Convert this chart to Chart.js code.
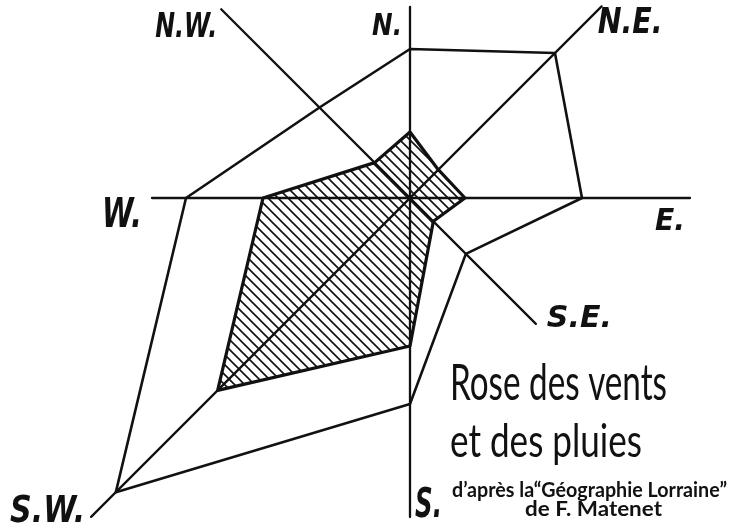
<!DOCTYPE html>
<html>
<head>
<meta charset="utf-8">
<script src="https://cdn.jsdelivr.net/npm/chart.js@4.4.0/dist/chart.umd.min.js"></script>
<style>
html,body{margin:0;padding:0;background:#fff;}
#wrap{width:729px;height:525px;position:relative;}
</style>
</head>
<body>
<div id="wrap"><canvas id="c"></canvas></div>
<script>
// ---- data ----
const directions = ['N.', 'N.E.', 'E.', 'S.E.', 'S.', 'S.W.', 'W.', 'N.W.'];
const bearings   = [0, 45, 90, 135, 180, 225, 270, 315];
const vents      = [149, 205, 172, 79, 206, 416, 224, 128];   // outer polygon (winds)
const pluies     = [66, 40, 55, 33, 148, 272, 147, 50];       // hatched polygon (rain)
const axisReach  = [191, 271, 280, 178, 319, 451, 258, 267];  // length of each drawn spoke
const titleLines  = ['Rose des vents', 'et des pluies'];
const sourceLines = ['d\u2019après la\u201cGéographie Lorraine\u201d', 'de F. Matenet'];

function toXY(bearing, r) {
  const a = bearing * Math.PI / 180;
  return { x: r * Math.sin(a), y: r * Math.cos(a) };
}
function polygon(values) {
  const pts = values.map((v, i) => toXY(bearings[i], v));
  pts.push(pts[0]);
  return pts;
}
function hatchPattern() {
  const s = 10;
  const c = document.createElement('canvas');
  c.width = s; c.height = s;
  const g = c.getContext('2d');
  g.strokeStyle = '#111';
  g.lineWidth = 1.6;
  g.beginPath();
  for (const k of [-1, 0, 1]) {
    g.moveTo(-1, -1 + k * s);
    g.lineTo(s + 1, s + 1 + k * s);
  }
  g.stroke();
  return g.createPattern(c, 'repeat');
}

const INK = '#111';
const datasets = [];
datasets.push({
  label: 'vents', data: polygon(vents), showLine: true, fill: false,
  borderColor: INK, borderWidth: 2.6
});
datasets.push({
  label: 'pluies', data: polygon(pluies), showLine: true, fill: 'shape',
  backgroundColor: hatchPattern(), borderColor: INK, borderWidth: 3.2
});
for (let i = 0; i < 4; i++) {
  datasets.push({
    label: 'axe ' + directions[i] + '-' + directions[i + 4],
    data: [toXY(bearings[i], axisReach[i]), toXY(bearings[i + 4], axisReach[i + 4])],
    showLine: true, fill: false, borderColor: INK, borderWidth: 2.3
  });
}

function drawFitted(ctx, text, x, y, font, width) {
  ctx.font = font;
  const w = ctx.measureText(text).width;
  ctx.save();
  ctx.translate(x, y);
  ctx.scale(width / w, 1);
  ctx.fillText(text, 0, 0);
  ctx.restore();
}

const labelPlugin = {
  id: 'roseLabels',
  afterDatasetsDraw(chart, args, opts) {
    const ctx = chart.ctx;
    const xs = chart.scales.x, ys = chart.scales.y;
    ctx.save();
    ctx.fillStyle = INK;
    ctx.textBaseline = 'alphabetic';
    directions.forEach((d, i) => {
      const end = toXY(bearings[i], axisReach[i]);
      const [dx, dy, size, width] = opts.dirOffsets[i];
      const px = xs.getPixelForValue(end.x) + dx;
      const py = ys.getPixelForValue(end.y) + dy;
      drawFitted(ctx, d, px, py, 'italic bold ' + size + 'px "DejaVu Sans"', width);
    });
    opts.texts.forEach(t => drawFitted(ctx, t.text, t.x, t.y, t.font, t.width));
    ctx.restore();
  }
};

new Chart(document.getElementById('c'), {
  type: 'scatter',
  data: { datasets },
  options: {
    responsive: true,
    maintainAspectRatio: false,
    animation: false,
    layout: { padding: 0 },
    elements: {
      point: { radius: 0, hoverRadius: 0 },
      line: { tension: 0, borderJoinStyle: 'round', borderCapStyle: 'round' }
    },
    scales: {
      x: { type: 'linear', min: -410, max: 319, display: false },
      y: { type: 'linear', min: -327, max: 198, display: false }
    },
    plugins: {
      legend: { display: false },
      tooltip: { enabled: false },
      roseLabels: {
        // [dx, dy(baseline), font size, width] relative to spoke end
        dirOffsets: [
          [-38, 28, 31, 30],
          [-4, 27, 36, 65],
          [-35, 32, 31, 30],
          [11, 3, 31, 65],
          [5, 0, 40, 27],
          [-81, 5, 37, 75],
          [-50, 29, 40, 40],
          [-66, 28, 33, 62]
        ],
        texts: [
          { text: titleLines[0], x: 450, y: 400, font: '50px Lato', width: 217 },
          { text: titleLines[1], x: 450, y: 457, font: '46px Lato', width: 192 },
          { text: sourceLines[0], x: 452, y: 497, font: 'bold 20px Lato', width: 275 },
          { text: sourceLines[1], x: 525, y: 516, font: 'bold 20px Lato', width: 137 }
        ]
      }
    }
  },
  plugins: [labelPlugin]
});
</script>
</body>
</html>
